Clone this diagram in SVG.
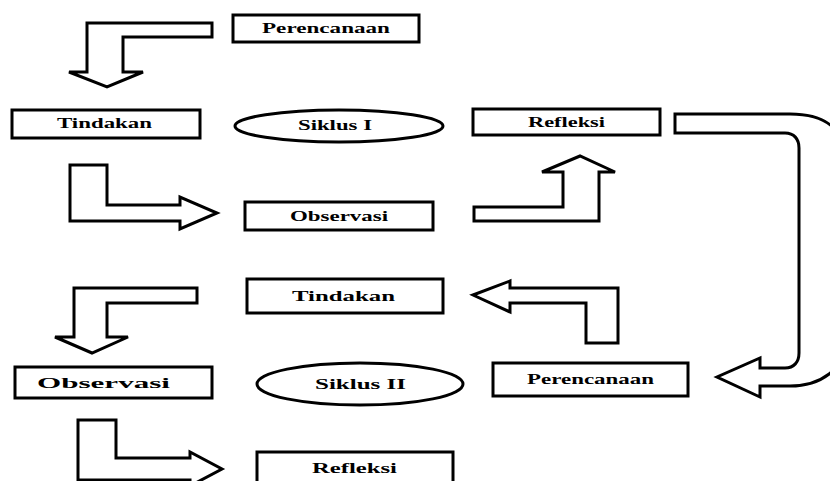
<svg xmlns="http://www.w3.org/2000/svg" width="830" height="481" viewBox="0 0 830 481">
<style>
.box{fill:#fff;stroke:#000;stroke-width:3}
.arr{fill:#fff;stroke:#000;stroke-width:3;stroke-linejoin:miter}
.t{font-family:"Liberation Serif","Times New Roman",serif;font-weight:bold;font-size:15px;fill:#000}
</style>
<rect width="830" height="481" fill="#fff"/>
<g id="connectors">
<path class="arr" d="M87,23 H212 V37 H123 V72 H143 L107,87 L69,72 H87 Z"/>
<path class="arr" d="M70,165 H107 V205 H180 V197 L217,213 L180,229 V221 H70 Z"/>
<path class="arr" d="M474,207 H563 V172 H542 L580,156 L615,172 H599 V221 H474 Z"/>
<path class="arr" stroke-width="2.5" d="M675,114 H790 C820,114 845,125 845,160 V340 C845,370 820,386 790,386 H760 V397 L717,377 L760,358 V368 H785 C794,368 799,362 799,353 V148 C799,139 794,133 785,133 H675 Z"/>
<path class="arr" d="M473,295 L510,281 V288 H618 V343 H586 V303 H510 V312 Z"/>
<path class="arr" d="M74,288 H197 V303 H107 V337 H128 L92,353 L55,337 H74 Z"/>
<path class="arr" d="M78,420 H116 V458 H190 V452 L222,469 L190,486 V480 H78 Z"/>
</g>
<g id="perencanaan1"><rect class="box" x="233" y="15" width="186" height="27"/><text class="t" x="262" y="33" textLength="128" lengthAdjust="spacingAndGlyphs">Perencanaan</text></g>
<g id="tindakan1"><rect class="box" x="12" y="110" width="188" height="28"/><text class="t" x="57" y="128" textLength="95" lengthAdjust="spacingAndGlyphs">Tindakan</text></g>
<g id="siklus1"><ellipse class="box" cx="339" cy="126" rx="104" ry="16"/><text class="t" x="298" y="130" textLength="74" lengthAdjust="spacingAndGlyphs">Siklus I</text></g>
<g id="refleksi1"><rect class="box" x="473" y="109" width="187" height="26"/><text class="t" x="528" y="127" textLength="77" lengthAdjust="spacingAndGlyphs">Refleksi</text></g>
<g id="observasi1"><rect class="box" x="245" y="202" width="188" height="28"/><text class="t" x="290" y="221" textLength="98" lengthAdjust="spacingAndGlyphs">Observasi</text></g>
<g id="tindakan2"><rect class="box" x="247" y="279" width="196" height="34"/><text class="t" x="292" y="301" font-size="16" textLength="103" lengthAdjust="spacingAndGlyphs">Tindakan</text></g>
<g id="observasi2"><rect class="box" x="15" y="367" width="197" height="31"/><text class="t" x="37" y="388" font-size="16" textLength="133" lengthAdjust="spacingAndGlyphs">Observasi</text></g>
<g id="siklus2"><ellipse class="box" cx="360" cy="384" rx="103" ry="21"/><text class="t" x="315" y="389" font-size="16" textLength="91" lengthAdjust="spacingAndGlyphs">Siklus II</text></g>
<g id="perencanaan2"><rect class="box" x="493" y="363" width="195" height="33"/><text class="t" x="527" y="384" textLength="127" lengthAdjust="spacingAndGlyphs">Perencanaan</text></g>
<g id="refleksi2"><rect class="box" x="257" y="452" width="196" height="40"/><text class="t" x="312" y="473" font-size="16" textLength="85" lengthAdjust="spacingAndGlyphs">Refleksi</text></g>
</svg>
